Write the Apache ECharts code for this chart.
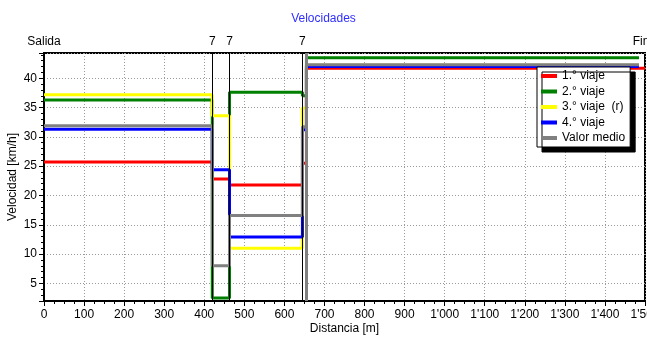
<!DOCTYPE html>
<html>
<head>
<meta charset="utf-8">
<script src="https://cdn.jsdelivr.net/npm/echarts@6/dist/echarts.min.js"></script>
<style>
html,body{margin:0;padding:0;background:#fff;}
#chart{width:647px;height:338px;}
</style>
</head>
<body>
<div id="chart"></div>
<script>
// Segment start positions (m)
const breaks = [0, 420, 463, 645, 655];
// Speeds per segment (km/h)
const viaje1 = [25.7, 22.8, 21.8, 25.5, 41.7];
const viaje2 = [36.3, 2.5, 37.6, 37.0, 43.5];
const viaje3 = [37.2, 33.6, 11.0, 34.9, 42.2];
const viaje4 = [31.3, 24.4, 12.9, 31.2, 42.0];
const medio  = [31.9, 8.0, 16.6, 31.7, 42.3];
// End of each series (m)
const ends = [1500, 1485, 1485, 1485, 1485];
const seriesNames = ['1.° viaje', '2.° viaje', '3.° viaje  (r)', '4.° viaje', 'Valor medio'];
const seriesColors = ['#ff0000', '#008000', '#ffff00', '#0000ff', '#808080'];
// Station markers (top labels)
const stationNames = ['Salida', '7', '7', '7', 'Fin'];
const stationPos = [0, 420, 463, 645, 1500];
const medioMarker = 655;
// Y tick values
const yTicks = [5, 10, 15, 20, 25, 30, 35, 40];

const FONT = 'Liberation Sans, Arial, sans-serif';
const allValues = [viaje1, viaje2, viaje3, viaje4, medio];

function stepData(vals, endX) {
  const d = breaks.map((b, i) => [b, vals[i]]);
  d.push([endX, vals[vals.length - 1]]);
  return d;
}

const series = allValues.map((vals, i) => ({
  name: seriesNames[i],
  type: 'line',
  step: 'end',
  symbol: 'none',
  showSymbol: false,
  data: stepData(vals, ends[i]),
  lineStyle: { width: 3, color: seriesColors[i] },
  itemStyle: { color: seriesColors[i] },
  z: 2 + i * 0.1
}));

const markData = stationPos.map((p, i) => {
  const first = i === 0, last = i === stationPos.length - 1;
  const item = {
    name: stationNames[i],
    xAxis: p,
    lineStyle: (first || last) ? { color: 'rgba(0,0,0,0)', width: 0 } : { color: '#000', width: 1, type: 'solid' }
  };
  if (last) item.label = { offset: [-4, 0] };
  return item;
});
markData.push({
  name: '',
  xAxis: medioMarker,
  lineStyle: { color: '#808080', width: 3, type: 'solid' },
  label: { show: false }
});

series.push({
  name: 'markers',
  type: 'line',
  data: [],
  z: 10,
  markLine: {
    silent: true,
    symbol: ['none', 'none'],
    animation: false,
    label: { show: true, position: 'end', formatter: '{b}', color: '#000', fontSize: 12, fontFamily: FONT, distance: 5 },
    data: markData
  }
});

function fmtX(v) {
  if (v >= 1000) return Math.floor(v / 1000) + "'" + String(v % 1000).padStart(3, '0');
  return String(v);
}

const chart = echarts.init(document.getElementById('chart'), null, { renderer: 'canvas' });
chart.setOption({
  animation: false,
  backgroundColor: '#fff',
  title: {
    text: 'Velocidades', left: 'center', top: 8,
    textStyle: { fontFamily: FONT, fontSize: 12, fontWeight: 'normal', color: '#2f2fff' }
  },
  grid: {
    left: 44, right: 2, top: 53, bottom: 37,
    show: true, borderColor: '#000', borderWidth: 2, backgroundColor: '#fff',
    outerBoundsMode: 'none', containLabel: false
  },
  legend: {
    orient: 'vertical', left: 537, top: 67,
    padding: [3, 5, 3, 4], itemGap: 3.5, itemWidth: 16, itemHeight: 4, icon: 'rect',
    backgroundColor: '#fff', borderColor: '#000', borderWidth: 1, borderRadius: 0,
    shadowColor: '#000', shadowOffsetX: 5, shadowOffsetY: 5, shadowBlur: 0,
    textStyle: { fontFamily: FONT, fontSize: 12, color: '#000' },
    data: seriesNames
  },
  xAxis: {
    type: 'value', min: 0, max: 1500, interval: 100,
    name: 'Distancia [m]', nameLocation: 'middle', nameGap: 22, nameMoveOverlap: false,
    nameTextStyle: { fontFamily: FONT, fontSize: 12, color: '#000' },
    axisLine: { show: true, onZero: false, lineStyle: { color: '#000', width: 2 } },
    axisTick: { show: true, length: 5, lineStyle: { color: '#000' } },
    minorTick: { show: true, splitNumber: 4, length: 3, lineStyle: { color: '#000' } },
    splitLine: { show: true, lineStyle: { color: '#9a9a9a', type: [1, 2], width: 1 } },
    axisLabel: { formatter: fmtX, color: '#000', fontSize: 12, fontFamily: FONT, margin: 8 }
  },
  yAxis: {
    type: 'value', min: 2, max: 44.3, splitNumber: 8,
    name: 'Velocidad [km/h]', nameLocation: 'middle', nameGap: 25, nameMoveOverlap: false,
    nameTextStyle: { fontFamily: FONT, fontSize: 12, color: '#000' },
    axisLine: { show: true, lineStyle: { color: '#000', width: 2 } },
    axisTick: { show: true, length: 5, lineStyle: { color: '#000' } },
    minorTick: { show: true, splitNumber: 5, length: 3, lineStyle: { color: '#000' } },
    splitLine: { show: true, lineStyle: { color: '#9a9a9a', type: [1, 2], width: 1 } },
    axisLabel: { color: '#000', fontSize: 12, fontFamily: FONT, margin: 7, showMinLabel: false, showMaxLabel: false,
      formatter: v => (yTicks.indexOf(v) >= 0 ? String(v) : '') }
  },
  series: series
});
</script>
</body>
</html>
